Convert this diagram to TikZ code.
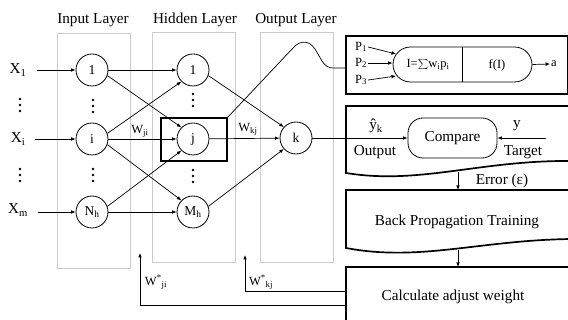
\documentclass[tikz,border=0pt]{standalone}
\usepackage{fontspec}
\setmainfont{Liberation Serif}
\usetikzlibrary{arrows.meta,shapes.misc,calc}
\begin{document}
\begin{tikzpicture}[x=1pt,y=-1pt,
  font=\fontsize{15.2}{17}\selectfont,
  neuron/.style={draw,circle,minimum size=32pt,inner sep=0pt,line width=0.8pt,font=\fontsize{13.5}{15}\selectfont},
  arr/.style={-{Latex[length=4.5pt,width=3.6pt]},line width=0.7pt},
  ln/.style={line width=0.7pt},
  layer/.style={draw=gray!40,line width=0.6pt},
  thickbox/.style={line width=1.7pt},
  small/.style={font=\fontsize{12.5}{14}\selectfont,inner sep=1pt},
  lbl/.style={inner sep=1pt},
]
\useasboundingbox (0,0) rectangle (568,320);
\clip (0,0) rectangle (568,320);

% layer boxes
\draw[layer] (57,33) rectangle (130,268);
\draw[layer] (152,32) rectangle (235,262);
\draw[layer] (260,32) rectangle (333,262);
\node[lbl] (lin) at (93,20) {Input Layer};
\node[lbl] (lhid) at (195,20) {Hidden Layer};
\node[lbl] (lout) at (296,20) {Output Layer};

% inputs
\node[lbl] (x1) at (18,70) {X\textsubscript{1}};
\node[lbl] (xi) at (18,139) {X\textsubscript{i}};
\node[lbl] (xm) at (18,210) {X\textsubscript{m}};

% neurons
\node[neuron] (in1) at (92,70) {1};
\node[neuron] (ini) at (92,139) {i};
\node[neuron] (inN) at (92,212) {N\textsubscript{h}};
\node[neuron] (h1) at (193,70) {1};
\node[neuron] (hj) at (193,139) {j};
\node[neuron] (hM) at (193,212) {M\textsubscript{h}};
\node[neuron] (ok) at (296,138) {k};
\node[draw,line width=1.6pt,minimum width=66pt,minimum height=43pt,inner sep=0pt] (jbox) at (194,139.5) {};

% vertical dots
\foreach \px/\py in {20/105, 20/175, 93/106, 93/175, 193/100, 193/176} {
  \foreach \d in {-6,0,6} \fill (\px,\py+\d) circle (1.4);
}

% input arrows
\draw[arr] ([xshift=9pt]x1.east) -- (in1);
\draw[arr] ([xshift=9pt]xi.east) -- (ini);
\draw[arr] ([xshift=9pt]xm.east |- inN) -- (inN);

% input -> hidden
\draw[arr] (in1) -- (h1);
\draw[arr] (in1.-20) -- (hj.135);
\draw[arr] (ini.20) -- (h1.225);
\draw[arr] (ini) -- (hj);
\draw[arr] (ini.-20) -- (hM.135);
\draw[arr] (inN.20) -- (hj.225);
\draw[arr] (inN) -- (hM);

% hidden -> output
\draw[arr] (h1.-20) -- (ok.138);
\draw[arr] (hj) -- (ok);
\draw[arr] (hM.20) -- (ok.222);
\node[small] (wji) at (140,131) {W\textsubscript{ji}};
\node[small] (wkj) at (248,129) {W\textsubscript{kj}};

% neuron model box
\node[draw,thickbox,minimum width=222pt,minimum height=58pt,anchor=north west,inner sep=0pt] (nbox) at (345,35) {};
\coordinate (nin) at (345,68);
\draw[ln] (jbox.north east) -- (293,48) .. controls (300,40) and (309,40) .. (315,49) -- (322,61) .. controls (326,67) and (329,68) .. (334,68) -- (nin);
\node[draw,rounded rectangle,minimum width=139pt,minimum height=35pt,line width=0.8pt,inner sep=0pt] (cap) at (462.5,64.5) {};
\draw[ln] (cap.north) -- (cap.south);
\node[small] (sum) at (428,65) {I=$\sum$w\textsubscript{i}p\textsubscript{i}};
\node[small] (fI) at (497,65) {f(I)};
\node[small] (p1) at (361,47) {P\textsubscript{1}};
\node[small] (p2) at (361,63) {P\textsubscript{2}};
\node[small] (p3) at (361,80) {P\textsubscript{3}};
\coordinate (c1) at (396,54);
\coordinate (c3) at (396,76);
\draw[arr] (p1.east) -- (c1);
\draw[arr] (p2.east) -- (p2.east -| cap.west);
\draw[arr] (p3.east) -- (c3);
\node[small] (aout) at (554,64) {a};
\draw[arr] (cap.east) -- (aout.west);

% compare box
\draw[thickbox] (572,161) .. controls (480,160) and (420,185) .. (346,173) -- (346,106) -- (572,106);
\node[draw,rounded corners=15pt,minimum width=89pt,minimum height=40pt,line width=0.8pt] (cmp) at (452.5,138) {Compare};
\draw[arr] (ok) -- (cmp);
\node[lbl] (yhat) at (376,126) {ŷ\textsubscript{k}};
\node[lbl] (outl) at (375,152) {Output};
\coordinate (tgt) at (546,138);
\draw[arr] (tgt) -- (cmp);
\node[lbl] (yl) at (517,126) {y};
\node[lbl] (tl) at (523,152) {Target};

% error arrow
\coordinate (e1) at (458,172);
\coordinate (bptop) at (458,190);
\draw[arr] (e1) -- (bptop);
\node[lbl] (err) at (502,181) {Error (ε)};

% back propagation box
\draw[thickbox] (572,239) .. controls (480,240) and (420,262) .. (346,248) -- (346,190) -- (572,190);
\node[lbl] (bpt) at (457,222) {Back Propagation Training};
\coordinate (bpbot) at (458,250);
\coordinate (calctop) at (458,267);
\draw[arr] (bpbot) -- (calctop);

% calculate box
\draw[thickbox] (346,325) -- (346,267) -- (572,267);
\node[lbl] (calc) at (453,297) {Calculate adjust weight};

% feedback
\coordinate (f1) at (346,291);
\coordinate (d1) at (245,255);
\draw[arr] (f1) -| (d1);
\node[small] (wskj) at (261,282) {W\textsuperscript{*}\textsubscript{kj}};
\coordinate (f2) at (346,305);
\coordinate (d2) at (140,253);
\draw[arr] (f2) -| (d2);
\node[small] (wsji) at (156,282) {W\textsuperscript{*}\textsubscript{ji}};
\end{tikzpicture}
\end{document}
